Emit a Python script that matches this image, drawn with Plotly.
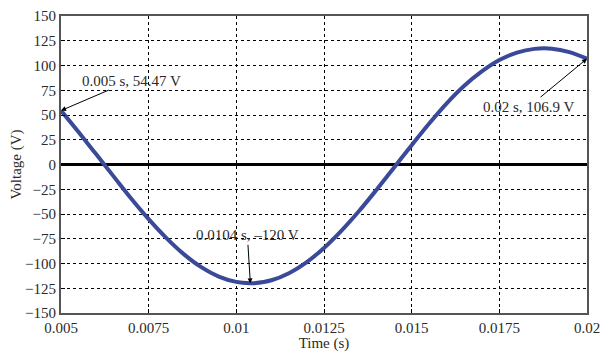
import plotly.graph_objects as go

# values
time_s = [0.005, 0.0055, 0.006, 0.0065, 0.007, 0.0075, 0.008, 0.0085, 0.009, 0.0095,
          0.01, 0.0104, 0.0105, 0.011, 0.0115, 0.012, 0.0125, 0.013, 0.0135, 0.014,
          0.0145, 0.015, 0.0155, 0.016, 0.0165, 0.017, 0.0175, 0.018, 0.0185, 0.019,
          0.0195, 0.02]
voltage = [54.47, 32.8, 10.5, -12.0, -34.3, -55.2, -74.1, -90.5, -103.7, -113.2,
           -118.6, -120.0, -119.9, -116.9, -109.8, -98.8, -84.3, -66.8, -47.0, -25.4,
           -3.0, 19.5, 41.4, 61.8, 79.5, 94.0, 105.5, 113.0, 116.8, 117.0,
           113.5, 106.9]

x_ticks = [0.005, 0.0075, 0.01, 0.0125, 0.015, 0.0175, 0.02]
x_labels = ["0.005", "0.0075", "0.01", "0.0125", "0.015", "0.0175", "0.02"]
y_ticks = list(range(-150, 151, 25))
y_labels = [str(v).replace("-", "\u2212") for v in y_ticks]

notes = [(0.005, 54.47, "0.005 s, 54.47 V", 70, -30),
         (0.02, 106.9, "0.02 s, 106.9 V", -58, 48),
         (0.0104, -120.0, "0.0104 s, \u2013120 V", -3, -48)]

serif = "Liberation Serif, Times New Roman, serif"
txt_color = "#2a2a2a"

fig = go.Figure()
fig.add_trace(go.Scatter(x=time_s, y=voltage, mode="lines", line_shape="spline",
                         line=dict(color="#3a4a99", width=4), showlegend=False))

for x, y, txt, ax, ay in notes:
    fig.add_annotation(x=x, y=y, text=txt, ax=ax, ay=ay, showarrow=True,
                       arrowhead=2, arrowsize=1, arrowwidth=1, arrowcolor="black",
                       font=dict(family=serif, size=15, color=txt_color))

axis_style = dict(showgrid=True, gridcolor="black", griddash="dot", gridwidth=1,
                  showline=True, linecolor="#555", linewidth=2, mirror=True,
                  ticks="inside", ticklen=4, tickcolor="black", automargin=False,
                  tickfont=dict(family=serif, size=15, color=txt_color))

fig.update_xaxes(range=[0.005, 0.02], tickvals=x_ticks, ticktext=x_labels,
                 title=dict(text="Time (s)", font=dict(family=serif, size=15, color=txt_color), standoff=4),
                 zeroline=False, **axis_style)
fig.update_yaxes(range=[-150, 150], tickvals=y_ticks, ticktext=y_labels,
                 title=dict(text="Voltage (V)", font=dict(family=serif, size=15, color=txt_color), standoff=0),
                 zeroline=True, zerolinecolor="black", zerolinewidth=2.5, **axis_style)

fig.update_layout(width=606, height=352, plot_bgcolor="white", paper_bgcolor="white",
                  margin=dict(l=61, r=19, t=16, b=39),
                  font=dict(family=serif, size=15, color=txt_color))

fig.write_html("out.html", config={"displayModeBar": False},
               post_script="document.body.style.margin='0';")
